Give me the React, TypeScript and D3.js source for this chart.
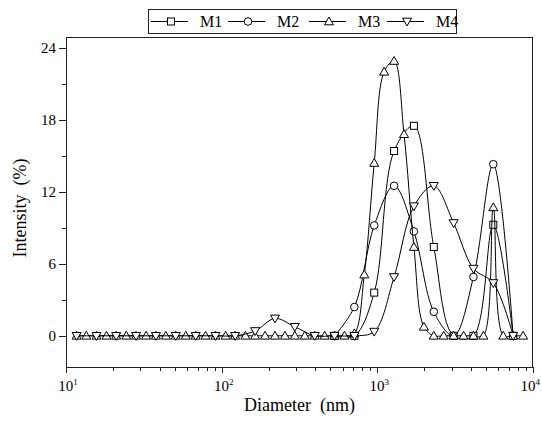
import * as d3 from "d3";

// size bins (nm)
const binsFine = [
  11.7, 13.5, 15.7, 18.2, 21.0, 24.4, 28.2, 32.7, 37.8, 43.8, 50.7, 58.8,
  68.1, 78.8, 91.3, 106, 122, 142, 164, 190, 220, 255, 295, 342, 396, 459,
  531, 615, 712, 825, 955, 1106, 1281, 1484, 1718, 1990, 2305, 2669, 3091,
  3580, 4145, 4801, 5560, 6439, 7456, 8635,
];
const binsCoarse = [
  11.7, 15.7, 21.0, 28.2, 37.8, 50.7, 68.1, 91.3, 122, 164, 220, 295, 396,
  531, 712, 955, 1281, 1718, 2305, 3091, 4145, 5560, 7456,
];
const binsPeak = [531, 712, 955, 1281, 1718, 2305, 3091, 4145, 5560, 7456];

const m1Values = [0, 0, 3.6, 15.4, 17.5, 7.4, 0, 0, 9.25, 0];
const m2Values = [0, 2.4, 9.2, 12.5, 8.7, 2.0, 0, 4.9, 14.3, 0];
const m3Values = [
  0, 0, 0, 0, 0, 0, 0, 0, 0, 0, 0, 0, 0, 0, 0, 0, 0, 0, 0, 0, 0, 0, 0, 0, 0,
  0, 0, 0, 0.2, 5.1, 14.4, 22.0, 22.9, 16.8, 7.4, 0.75, 0, 0, 0, 0, 0, 0,
  10.7, 0, 0, 0,
];
const m4Values = [
  0, 0, 0, 0, 0, 0, 0, 0, 0, 0.4, 1.45, 0.75, 0, 0, 0, 0.35, 4.9, 10.8, 12.5,
  9.4, 5.6, 4.4, 0,
];

const yTicks = [0, 6, 12, 18, 24];
const yMinorTicks = [3, 9, 15, 21];
const xTicks = [10, 100, 1000, 10000];
const xExponents = ["1", "2", "3", "4"];

const seriesNames = ["M1", "M2", "M3", "M4"];
const seriesSymbols = ["square", "circle", "up", "down"];

const width = 542;
const height = 428;
const plot = { left: 66, right: 533, top: 37, bottom: 367 };
const serif = "'Times New Roman', Tinos, 'Liberation Serif', serif";

const xScale = d3.scaleLog().domain([10, 10000]).range([plot.left, plot.right]);
const yScale = d3.scaleLinear().domain([-2.6, 24.9]).range([plot.bottom, plot.top]);

const line = d3
  .line()
  .x((d) => xScale(d[0]))
  .y((d) => yScale(d[1]))
  .curve(d3.curveCatmullRom.alpha(0.5));

const series = [
  { x: binsPeak, y: m1Values },
  { x: binsPeak, y: m2Values },
  { x: binsFine, y: m3Values },
  { x: binsCoarse, y: m4Values },
];

const Marker = ({ kind, x, y }) => {
  if (kind === "square")
    return <rect x={x - 3.5} y={y - 3.5} width={7} height={7} fill="white" stroke="black" />;
  if (kind === "circle") return <circle cx={x} cy={y} r={3.8} fill="white" stroke="black" />;
  const d =
    kind === "up"
      ? `M${x},${y - 4.5}L${x + 4.5},${y + 3.3}L${x - 4.5},${y + 3.3}Z`
      : `M${x},${y + 4.5}L${x + 4.5},${y - 3.3}L${x - 4.5},${y - 3.3}Z`;
  return <path d={d} fill="white" stroke="black" />;
};

// minor log ticks
const minorX = [];
for (let dec = 10; dec < 10000; dec *= 10) {
  for (let k = 2; k <= 9; k++) minorX.push(dec * k);
}

const legendStarts = [151, 228, 309, 387];
const px = (v) => Math.round(v) + 0.5;

const App = () => (
  <svg
    width={width}
    height={height}
    style={{ position: "absolute", left: 0, top: 0, background: "white", fontFamily: serif }}
  >
    {/* data */}
    {series.map((s, i) => {
      const pts = s.x.map((xv, j) => [xv, s.y[j]]);
      return (
        <g key={i}>
          <path d={line(pts)} fill="none" stroke="black" />
          {pts.map((p, j) => (
            <Marker key={j} kind={seriesSymbols[i]} x={xScale(p[0])} y={yScale(p[1])} />
          ))}
        </g>
      );
    })}

    {/* frame */}
    <rect
      x={plot.left + 0.5}
      y={plot.top + 0.5}
      width={plot.right - plot.left - 1}
      height={plot.bottom - plot.top}
      fill="none"
      stroke="#222"
    />

    {/* ticks */}
    <g stroke="#222">
      {yTicks.map((t) => (
        <line key={t} x1={plot.left - 7} x2={plot.left} y1={px(yScale(t))} y2={px(yScale(t))} />
      ))}
      {yMinorTicks.map((t) => (
        <line key={t} x1={plot.left - 4} x2={plot.left} y1={px(yScale(t))} y2={px(yScale(t))} />
      ))}
      {minorX.map((t) => (
        <line key={t} x1={px(xScale(t))} x2={px(xScale(t))} y1={plot.bottom} y2={plot.bottom + 4} />
      ))}
      {xTicks.map((t) => (
        <line key={t} x1={px(xScale(t))} x2={px(xScale(t))} y1={plot.bottom} y2={plot.bottom + 6} />
      ))}
    </g>
    {yTicks.map((t) => (
      <text
        key={t}
        x={plot.left - 10}
        y={yScale(t) + 5}
        textAnchor="end"
        style={{ fontFamily: serif, fontSize: "15px" }}
      >
        {t}
      </text>
    ))}
    {xTicks.map((t, i) => {
      const last = i === xTicks.length - 1;
      return (
        <text
          key={t}
          x={last ? 540 : xScale(t) + 2}
          y={391}
          textAnchor={last ? "end" : "middle"}
          style={{ fontFamily: serif, fontSize: "15px" }}
        >
          10
          <tspan dy={-6} style={{ fontSize: "9px" }}>
            {xExponents[i]}
          </tspan>
        </text>
      );
    })}

    {/* axis titles */}
    <text
      x={(plot.left + plot.right) / 2}
      y={411}
      textAnchor="middle"
      style={{ fontFamily: serif, fontSize: "18px", whiteSpace: "pre" }}
    >
      Diameter  (nm)
    </text>
    <text
      transform={`translate(26, ${(plot.top + plot.bottom) / 2 + 6}) rotate(-90)`}
      textAnchor="middle"
      style={{ fontFamily: serif, fontSize: "18px", whiteSpace: "pre" }}
    >
      Intensity  (%)
    </text>

    {/* legend */}
    <rect x={148.5} y={9.5} width={308} height={24} fill="white" stroke="#222" />
    {seriesNames.map((name, i) => {
      const sx = legendStarts[i];
      return (
        <g key={name}>
          <line x1={sx} x2={sx + 37} y1={21.5} y2={21.5} stroke="black" />
          <Marker kind={seriesSymbols[i]} x={sx + 20} y={21.5} />
          <text x={sx + 49} y={27} style={{ fontFamily: serif, fontSize: "16px" }}>
            {name}
          </text>
        </g>
      );
    })}
  </svg>
);

export default App;
